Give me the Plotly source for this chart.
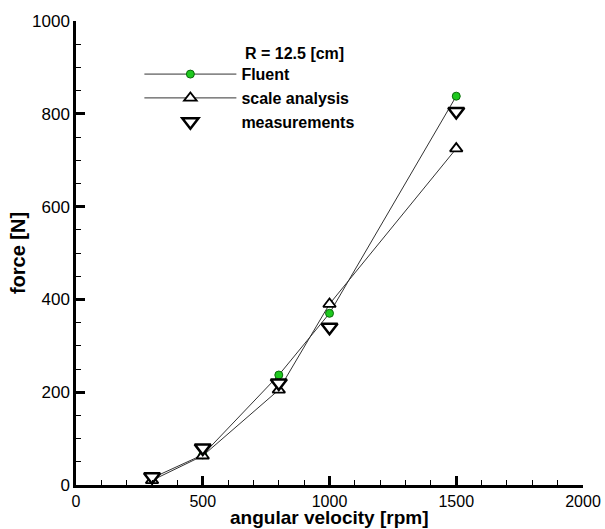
import plotly.graph_objects as go

rpm = [300, 500, 800, 1000, 1500]
fluent = [15, 65, 237, 370, 838]
scale_analysis = [10, 63, 205, 390, 725]
measurements = [18, 80, 220, 340, 805]
x_ticks = [0, 500, 1000, 1500, 2000]
y_ticks = [0, 200, 400, 600, 800, 1000]

FONT = "Liberation Sans, Arial, sans-serif"

fig = go.Figure()
fig.add_trace(go.Scatter(
    x=rpm, y=fluent, mode="lines+markers", name="<b>Fluent</b>",
    line=dict(color="#333333", width=1),
    marker=dict(symbol="circle", size=8, color="#1ec81e", line=dict(color="#0a6a0a", width=1)),
))
fig.add_trace(go.Scatter(
    x=rpm, y=scale_analysis, mode="lines+markers", name="<b>scale analysis</b>",
    line=dict(color="#333333", width=1),
    marker=dict(symbol="triangle-up", size=11, color="white", line=dict(color="black", width=1.8)),
))
fig.add_trace(go.Scatter(
    x=rpm, y=measurements, mode="markers", name="<b>measurements</b>",
    marker=dict(symbol="triangle-down", size=14, color="white", line=dict(color="black", width=2.5)),
))

fig.add_annotation(
    text="<b>R = 12.5 [cm]</b>", xref="paper", yref="paper",
    x=0.329, y=0.931, xanchor="left", yanchor="middle", showarrow=False,
    font=dict(size=16, family=FONT, color="black"),
)
fig.add_annotation(
    text="<b>angular velocity [rpm]</b>", xref="paper", yref="paper",
    x=0.5, y=-0.0948, xanchor="center", yanchor="bottom", showarrow=False,
    borderpad=0, font=dict(size=19, family=FONT, color="black"),
)

fig.update_layout(
    width=605, height=529,
    margin=dict(l=76, r=22, t=21, b=44),
    paper_bgcolor="white", plot_bgcolor="white",
    font=dict(family=FONT, color="black", size=17),
    legend=dict(
        x=0.125, y=0.922, xanchor="left", yanchor="top",
        bgcolor="rgba(0,0,0,0)", font=dict(size=16, family=FONT),
        itemwidth=92, tracegroupgap=0,
    ),
    xaxis=dict(
        range=[0, 2000], tickvals=x_ticks, showgrid=False, zeroline=False,
        showline=True, linecolor="black", linewidth=2.5, automargin=False,
        ticks="inside", ticklen=9, tickwidth=2.5, tickcolor="black",
        minor=dict(dtick=100, ticks="inside", ticklen=5, tickwidth=1, tickcolor="black", showgrid=False),
        tickfont=dict(size=16),
    ),
    yaxis=dict(
        range=[0, 1000], tickvals=y_ticks, showgrid=False, zeroline=False,
        showline=True, linecolor="black", linewidth=2.5, automargin=False,
        ticks="inside", ticklen=9, tickwidth=2.5, tickcolor="black",
        minor=dict(dtick=50, ticks="inside", ticklen=5, tickwidth=1, tickcolor="black", showgrid=False),
        tickfont=dict(size=17),
        title=dict(text="<b>force [N]</b>", font=dict(size=20), standoff=2),
    ),
)

fig.write_html(
    "out.html",
    config={"displayModeBar": False},
    post_script="document.body.style.margin='0';document.body.style.overflow='hidden';",
)
